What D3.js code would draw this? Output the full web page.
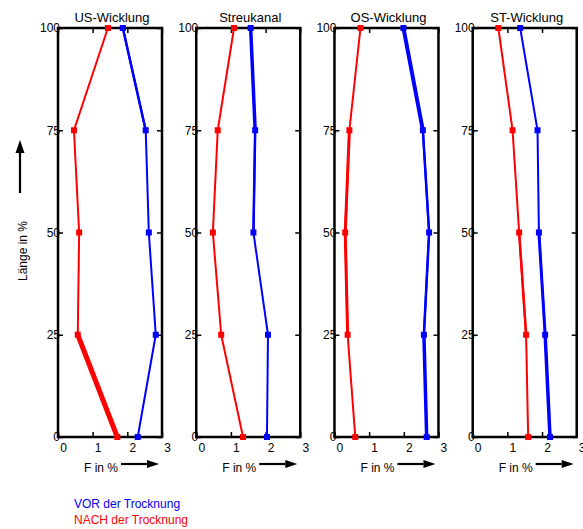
<!DOCTYPE html>
<html>
<head>
<meta charset="utf-8">
<script src="https://cdn.jsdelivr.net/npm/d3@7"></script>
<style>
body { margin: 0; background: #fff; }
text { font-family: "Liberation Sans", Arial, sans-serif; }
</style>
</head>
<body>
<div id="chart"></div>
<script>
// Data
var titles = ["US-Wicklung", "Streukanal", "OS-Wicklung", "ST-Wicklung"];
var laenge = [100, 75, 50, 25, 0];
var vorUS = [1.87, 2.53, 2.62, 2.82, 2.30];
var nachUS = [1.44, 0.46, 0.61, 0.57, 1.71];
var vorStreu = [1.57, 1.70, 1.65, 2.07, 2.04];
var nachStreu = [1.09, 0.62, 0.48, 0.72, 1.35];
var vorOS = [1.99, 2.55, 2.73, 2.58, 2.66];
var nachOS = [0.75, 0.43, 0.31, 0.38, 0.60];
var vorST = [1.37, 1.87, 1.91, 2.09, 2.23];
var nachST = [0.74, 1.15, 1.34, 1.54, 1.60];
var xTicks = [0, 1, 2, 3];
var yTicks = [0, 25, 50, 75, 100];
var legendLabels = ["VOR der Trocknung", "NACH der Trocknung"];

var vorAll = [vorUS, vorStreu, vorOS, vorST];
var nachAll = [nachUS, nachStreu, nachOS, nachST];

// line widths per segment (styling only)
var vorWidths = [[2.5, 2, 2, 2], [3.5, 2.5, 2, 2], [4, 2.5, 2.5, 3.5], [2, 2, 3, 3.5]];
var nachWidths = [[2, 2, 2, 5], [2, 2, 2, 2], [2, 3, 3, 2], [2, 2, 2.5, 2]];

var blue = "#0000ff", red = "#ff0000";

var svgWidth = 583, svgHeight = 529;
var marginTop = 28, plotW = 104, plotH = 409;

var svg = d3.select("#chart").append("svg")
    .attr("width", svgWidth)
    .attr("height", svgHeight);

var panelX = d3.scaleLinear().domain([0, 3]).range([58, 472.7]);
var x = d3.scaleLinear().domain([0, 3]).range([0, plotW]);
var y = d3.scaleLinear().domain([0, 100]).range([plotH, 0]);

function drawArrow(g, x1, y1, x2, y2, head, half) {
    var ang = Math.atan2(y2 - y1, x2 - x1);
    var bx = x2 - head * Math.cos(ang), by = y2 - head * Math.sin(ang);
    g.append("line")
        .attr("x1", x1).attr("y1", y1).attr("x2", bx).attr("y2", by)
        .attr("stroke", "#000").attr("stroke-width", 2.2);
    var px = -Math.sin(ang) * half, py = Math.cos(ang) * half;
    g.append("path")
        .attr("d", "M" + x2 + "," + y2 + "L" + (bx + px) + "," + (by + py) + "L" + (bx - px) + "," + (by - py) + "Z")
        .attr("fill", "#000");
}

titles.forEach(function(title, i) {
    var g = svg.append("g")
        .attr("transform", `translate(${panelX(i)}, ${marginTop})`);

    // title
    g.append("text")
        .attr("x", plotW / 2 + 2)
        .attr("y", -6)
        .attr("text-anchor", "middle")
        .attr("font-size", "13px")
        .text(title);

    // axes with inward ticks
    var left = g.append("g")
        .call(d3.axisLeft(y).tickValues(yTicks).tickSize(-5).tickPadding(-2).tickFormat(d3.format("d")));
    left.selectAll("text").attr("font-size", "12px").attr("fill", "#000").attr("font-family", "Liberation Sans, Arial, sans-serif");

    g.append("g")
        .attr("transform", `translate(${plotW}, 0)`)
        .call(d3.axisRight(y).tickValues(yTicks).tickSize(-5).tickFormat(""));

    var bottom = g.append("g")
        .attr("transform", `translate(0, ${plotH})`)
        .call(d3.axisBottom(x).tickValues(xTicks).tickSize(-5).tickPadding(6).tickFormat(d3.format("d")));
    bottom.selectAll("text").attr("font-size", "12px").attr("fill", "#000").attr("dx", 5).attr("font-family", "Liberation Sans, Arial, sans-serif");

    g.append("g")
        .call(d3.axisTop(x).tickValues(xTicks).tickSize(-5).tickFormat(""));

    g.selectAll(".domain").remove();
    g.selectAll(".tick line").attr("stroke", "#000").attr("stroke-width", 1.5);

    g.append("rect")
        .attr("x", 0).attr("y", 0)
        .attr("width", plotW).attr("height", plotH)
        .attr("fill", "none")
        .attr("stroke", "#000")
        .attr("stroke-width", 2.5);

    // series
    [[vorAll[i], blue, vorWidths[i]], [nachAll[i], red, nachWidths[i]]].forEach(function(s) {
        var vals = s[0], col = s[1], widths = s[2];
        var pts = vals.map(function(v, k) { return [v, laenge[k]]; });
        var line = d3.line().x(d => x(d[0])).y(d => y(d[1]));
        g.append("path")
            .attr("d", line(pts))
            .attr("fill", "none")
            .attr("stroke", col)
            .attr("stroke-width", 2)
            .attr("stroke-linejoin", "round");
        for (var k = 0; k < pts.length - 1; k++) {
            if (widths[k] > 2) {
                g.append("path")
                    .attr("d", line([pts[k], pts[k + 1]]))
                    .attr("fill", "none")
                    .attr("stroke", col)
                    .attr("stroke-width", widths[k])
                    .attr("stroke-linecap", "round");
            }
        }
        g.selectAll(null)
            .data(pts)
            .enter()
            .append("rect")
            .attr("x", d => x(d[0]) - 3)
            .attr("y", d => y(d[1]) - 3)
            .attr("width", 6)
            .attr("height", 6)
            .attr("fill", col);
    });

    // x label with arrow
    g.append("text")
        .attr("x", 26)
        .attr("y", plotH + 35)
        .attr("font-size", "12px")
        .text("F in %");
    drawArrow(g, 63, plotH + 27, 101, plotH + 27, 12, 4);
});

// y label with arrow
svg.append("text")
    .attr("transform", "translate(27, 251) rotate(-90)")
    .attr("text-anchor", "middle")
    .attr("font-size", "12px")
    .text("Länge in %");
drawArrow(svg, 20, 193, 20, 140, 13, 4.5);

// legend
svg.selectAll(".legend")
    .data(legendLabels)
    .enter()
    .append("text")
    .attr("class", "legend")
    .attr("x", 74)
    .attr("y", (d, i) => 508 + i * 16)
    .attr("font-size", "12px")
    .attr("fill", (d, i) => i === 0 ? blue : red)
    .text(d => d);
</script>
</body>
</html>
